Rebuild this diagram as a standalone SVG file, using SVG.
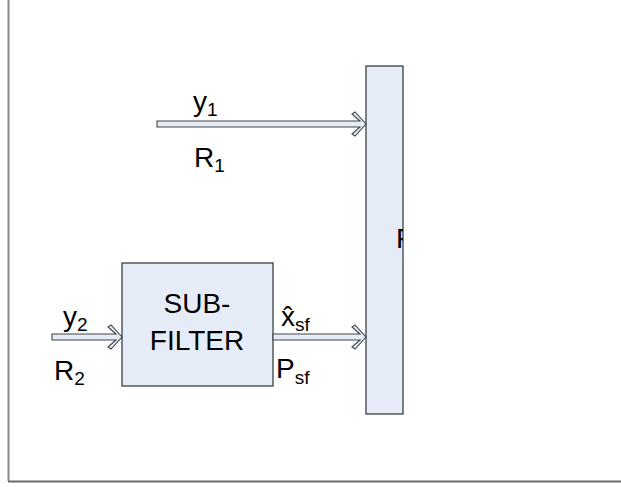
<svg xmlns="http://www.w3.org/2000/svg" width="621" height="487" viewBox="0 0 621 487">
<style>
.box{fill:#E6ECF7;stroke:#3A3F46;stroke-width:1.3}
.arr{fill:#E6ECF7;stroke:#404448;stroke-width:1.1;stroke-linejoin:miter}
text{font-family:"Liberation Sans",Arial,sans-serif;fill:#000;font-size:28px}
.sub{font-size:19px}
</style>
<defs>
<clipPath id="cF"><rect x="366" y="66" width="37" height="348"/></clipPath>
</defs>
<rect x="0" y="0" width="621" height="487" fill="#fff"/>
<g id="frame">
<line x1="8.5" y1="0" x2="8.5" y2="481" stroke="#8a8a8a" stroke-width="2"/>
<line x1="8" y1="481.5" x2="621" y2="481.5" stroke="#6a6a6a" stroke-width="2"/>
</g>
<g id="fusion">
<rect class="box" x="366" y="66" width="37" height="348"/>
<text x="396" y="248" clip-path="url(#cF)">F</text>
</g>
<g id="subfilter">
<rect class="box" x="122" y="263" width="151" height="123"/>
<text x="197" y="313" text-anchor="middle">SUB-</text>
<text x="197" y="350" text-anchor="middle">FILTER</text>
</g>
<g id="connectors">
<polygon class="arr" points="157,121 360,121 352,114 355,112 366,124 355,136 352,134 360,127 157,127"/>
<polygon class="arr" points="52,334 116,334 108,327 111,325 122,337 111,349 108,347 116,340 52,340"/>
<polygon class="arr" points="273,334 360,334 352,327 355,325 366,337 355,349 352,347 360,340 273,340"/>
</g>
<g id="labels">
<text x="193" y="111">y<tspan class="sub" dy="5">1</tspan></text>
<text x="194" y="167">R<tspan class="sub" dy="5">1</tspan></text>
<text x="63" y="326">y<tspan class="sub" dy="5">2</tspan></text>
<text x="54" y="380">R<tspan class="sub" dy="5">2</tspan></text>
<text x="281" y="326">x̂<tspan class="sub" dy="5">sf</tspan></text>
<text x="276" y="378">P<tspan class="sub" dy="6">sf</tspan></text>
</g>
</svg>
